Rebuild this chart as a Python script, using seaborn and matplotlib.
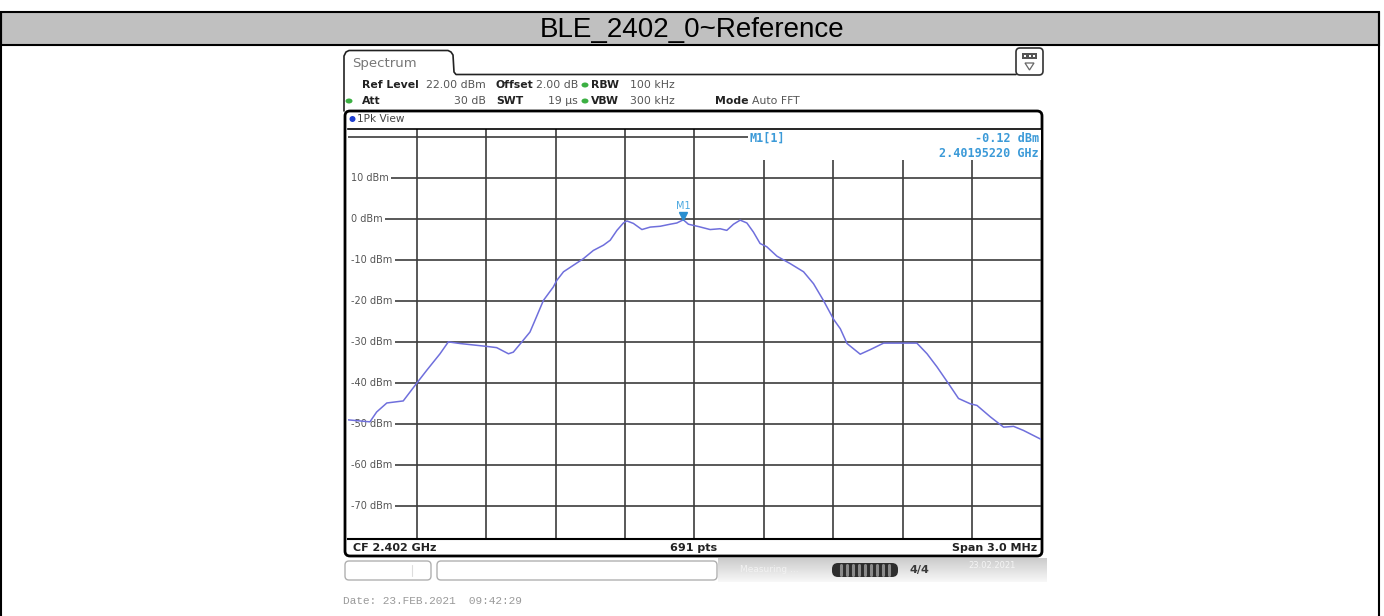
import numpy as np
import pandas as pd
import matplotlib
matplotlib.use("Agg")
import matplotlib.pyplot as plt
import seaborn as sns
from matplotlib.patches import Rectangle, FancyBboxPatch, Ellipse, Polygon
from matplotlib.transforms import ScaledTranslation

# analyzer settings
center_mhz = 2402.0
span_mhz = 3.0
ref_level_dbm = 22.0
range_db = 100.0
n_points = 691

# trace (offset from CF in MHz, level in dBm)
offset_mhz = [-1.500, -1.403, -1.374, -1.330, -1.259, -1.201, -1.157, -1.100,
              -1.064, -1.013, -0.898, -0.855, -0.804, -0.783, -0.746, -0.711,
              -0.689, -0.653, -0.610, -0.595, -0.566, -0.523, -0.480, -0.437,
              -0.393, -0.364, -0.335, -0.307, -0.292, -0.264, -0.227, -0.191,
              -0.148, -0.105, -0.076, -0.048, -0.026, 0.020, 0.068, 0.111,
              0.140, 0.169, 0.198, 0.227, 0.255, 0.284, 0.313, 0.357,
              0.414, 0.472, 0.515, 0.558, 0.602, 0.631, 0.660, 0.717,
              0.760, 0.818, 0.904, 0.962, 1.006, 1.049, 1.099, 1.142,
              1.193, 1.222, 1.280, 1.337, 1.380, 1.423, 1.500]
level_dbm = [-48.9, -49.4, -47.0, -44.8, -44.3, -40.0, -36.8, -32.8,
             -29.9, -30.3, -31.0, -31.3, -32.8, -32.4, -29.9, -27.5,
             -24.6, -19.8, -16.5, -14.9, -12.8, -11.2, -9.6, -7.6,
             -6.3, -5.1, -2.7, -0.9, -0.4, -1.0, -2.5, -1.9,
             -1.7, -1.2, -0.9, -0.12, -1.2, -1.8, -2.5, -2.3,
             -2.7, -1.2, -0.2, -0.9, -3.1, -5.9, -6.7, -9.0,
             -10.8, -12.8, -15.7, -19.8, -24.4, -26.7, -30.3, -32.9,
             -31.8, -30.2, -30.2, -30.2, -32.8, -36.0, -40.1, -43.7,
             -45.0, -45.4, -48.2, -50.7, -50.5, -51.5, -53.7]

marker_freq_mhz = 2401.9522
marker_level_dbm = -0.12

y_grid_dbm = [20, 10, 0, -10, -20, -30, -40, -50, -60, -70]
y_label_dbm = [10, 0, -10, -20, -30, -40, -50, -60, -70]

W, H = 1384, 616
grid_col = "#3c3c3c"
trace_col = "#6f6fdc"
marker_col = "#3b9ad8"

sns.set_style("white")
plt.rcParams["font.family"] = ["DejaVu Sans"]

df = pd.DataFrame({"freq_mhz": np.array(offset_mhz) + center_mhz, "level_dbm": level_dbm})

fig = plt.figure(figsize=(W / 100, H / 100), dpi=100)

# background axes in pixel coordinates for the instrument chrome
bg = fig.add_axes([0, 0, 1, 1], zorder=0)
bg.set_xlim(0, W)
bg.set_ylim(H, 0)
bg.axis("off")

# title bar and outer frame
bg.add_patch(Rectangle((1, 12), 1378, 33, fc="#c0c0c0", ec="black", lw=1.5))
bg.plot([1, 1], [12, H], color="black", lw=1.5)
bg.plot([1379, 1379], [12, H], color="black", lw=1.5)
bg.text(692, 37, "BLE_2402_0~Reference", ha="center", va="baseline",
        fontsize=20, family="Liberation Sans", color="black")

# tab outline
tab_x = [344, 344, 346, 349, 448, 451, 453, 454, 456, 1016]
tab_y = [111, 56, 52, 50.5, 50.5, 52, 55, 72, 74.5, 74.5]
bg.plot(tab_x, tab_y, color="#222222", lw=1.2)
bg.text(352, 63, "Spectrum", ha="left", va="center", fontsize=9.5, color="#777777")

# icon top right
bg.add_patch(FancyBboxPatch((1016, 48), 27, 27, boxstyle="round,pad=0,rounding_size=4",
                            fc="white", ec="#333333", lw=1.2))
bg.add_patch(Rectangle((1022, 53), 15, 6, fc="#555555", ec="none"))
for dx in (1025, 1029.5, 1034):
    bg.add_patch(Rectangle((dx - 1, 55), 2, 2, fc="white", ec="none"))
bg.add_patch(Polygon([(1025, 63), (1034, 63), (1029.5, 70)], closed=True,
                     fc="white", ec="#666666", lw=0.9))

# header parameters
hdr = 7.8
row1, row2 = 85, 101
bold_items = [(362, row1, "Ref Level"), (496, row1, "Offset"), (591, row1, "RBW"),
              (362, row2, "Att"), (496, row2, "SWT"), (591, row2, "VBW"), (715, row2, "Mode")]
for x, y, s in bold_items:
    bg.text(x, y, s, ha="left", va="center", fontsize=hdr, fontweight="bold", color="#222222")
right_items = [(486, row1, "22.00 dBm"), (578, row1, "2.00 dB"),
               (486, row2, "30 dB"), (578, row2, "19 µs")]
for x, y, s in right_items:
    bg.text(x, y, s, ha="right", va="center", fontsize=hdr, color="#555555")
left_items = [(630, row1, "100 kHz"), (630, row2, "300 kHz"), (752, row2, "Auto FFT")]
for x, y, s in left_items:
    bg.text(x, y, s, ha="left", va="center", fontsize=hdr, color="#555555")
for x, y in [(585, row1), (585, row2), (349, row2)]:
    bg.add_patch(Ellipse((x, y), 7, 5, fc="#3cb043", ec="none"))

# view box
bg.add_patch(FancyBboxPatch((345, 111), 697, 445, boxstyle="round,pad=0,rounding_size=5",
                            fc="white", ec="black", lw=2))
bg.add_patch(Ellipse((352.5, 119), 6, 6, fc="#1f3fd0", ec="none"))
bg.text(357, 119, "1Pk View", ha="left", va="center", fontsize=7.6, color="#444444")

# bottom info line
bg.text(353, 548, "CF 2.402 GHz", ha="left", va="center", fontsize=8, fontweight="bold", color="#222222")
bg.text(694, 548, f"{n_points} pts", ha="center", va="center", fontsize=8, fontweight="bold", color="#222222")
bg.text(1037, 548, "Span 3.0 MHz", ha="right", va="center", fontsize=8, fontweight="bold", color="#222222")

# status bar
bg.add_patch(FancyBboxPatch((345, 561), 86, 19, boxstyle="round,pad=0,rounding_size=4",
                            fc="white", ec="#b0b0b0", lw=1))
bg.plot([412, 412], [565, 576], color="#dddddd", lw=0.8)
bg.add_patch(FancyBboxPatch((437, 561), 280, 19, boxstyle="round,pad=0,rounding_size=4",
                            fc="white", ec="#b0b0b0", lw=1))
grad = np.linspace(0.80, 0.97, 24)
grad_img = np.repeat(grad[:, None], 2, axis=1)
bg.imshow(np.dstack([grad_img] * 3), extent=(718, 1047, 582, 558), aspect="auto",
          interpolation="bilinear", zorder=1)
bg.text(740, 569, "Measuring ...", ha="left", va="center", fontsize=6.5, color="#f2f2f2", zorder=2)
bg.text(968, 565, "23.02.2021", ha="left", va="center", fontsize=6, color="#f5f5f5", zorder=2)
bg.add_patch(FancyBboxPatch((832, 563), 66, 14, boxstyle="round,pad=0,rounding_size=6",
                            fc="#2e2e2e", ec="none", zorder=2))
for sx in range(841, 891, 6):
    bg.plot([sx, sx], [565, 575], color="#8a8a8a", lw=2.2, zorder=3)
bg.text(909, 570, "4/4", ha="left", va="center", fontsize=8, fontweight="bold", color="#3a3a3a", zorder=2)

bg.text(343, 601, "Date: 23.FEB.2021  09:42:29", ha="left", va="center",
        fontsize=8, family="Liberation Mono", color="#9a9a9a")

# spectrum plot axes
ax = fig.add_axes([347.5 / W, 1 - 539.1 / H, 693.8 / W, 410 / H], zorder=1)
ax.set_facecolor("none")
ax.set_xlim(center_mhz - span_mhz / 2, center_mhz + span_mhz / 2)
ax.set_ylim(ref_level_dbm - range_db, ref_level_dbm)

for v in y_grid_dbm:
    ax.axhline(v, color=grid_col, lw=1.2, zorder=1)
for k in range(1, 10):
    ax.axvline(center_mhz - span_mhz / 2 + k * span_mhz / 10, color=grid_col, lw=1.2, zorder=1)

ytrans = ax.get_yaxis_transform()
for v in y_label_dbm:
    ax.text(0.0045, v, f"{v} dBm", transform=ytrans, ha="left", va="center", fontsize=7,
            color="#555555", zorder=2,
            bbox=dict(boxstyle="square,pad=0.3", fc="white", ec="none"))

sns.lineplot(data=df, x="freq_mhz", y="level_dbm", ax=ax, color=trace_col,
             linewidth=1.1, estimator=None, zorder=3)

# marker
tri = ax.transData + ScaledTranslation(0, 2.5 / 72, fig.dpi_scale_trans)
ax.plot([marker_freq_mhz], [marker_level_dbm], marker="v", ms=6, color="#2a8fd0",
        transform=tri, zorder=4, clip_on=False)
ax.annotate("M1", xy=(marker_freq_mhz, marker_level_dbm), xytext=(0, 10),
            textcoords="offset points", ha="center", va="center", fontsize=7,
            color="#4aa8e0", zorder=4)

# marker readout box
ax.add_patch(Rectangle((0.577, 0.924), 0.423, 0.076, transform=ax.transAxes,
                       fc="white", ec="none", zorder=2.5))
ax.text(0.580, 0.978, "M1[1]", transform=ax.transAxes, ha="left", va="center",
        fontsize=8.5, family="DejaVu Sans Mono", fontweight="bold", color=marker_col, zorder=3)
ax.text(0.997, 0.978, f"{marker_level_dbm:.2f} dBm", transform=ax.transAxes, ha="right",
        va="center", fontsize=8.5, family="DejaVu Sans Mono", fontweight="bold",
        color=marker_col, zorder=3)
ax.text(0.997, 0.941, f"{marker_freq_mhz / 1000:.8f} GHz", transform=ax.transAxes, ha="right",
        va="center", fontsize=8.5, family="DejaVu Sans Mono", fontweight="bold",
        color=marker_col, zorder=3)

ax.set_xticks([])
ax.set_yticks([])
ax.set_xlabel("")
ax.set_ylabel("")
for side in ("left", "right"):
    ax.spines[side].set_visible(False)
ax.spines["top"].set_linewidth(1.2)
ax.spines["bottom"].set_linewidth(1.5)
ax.spines["top"].set_color("black")
ax.spines["bottom"].set_color("black")

fig.savefig("out.png", dpi=100)
